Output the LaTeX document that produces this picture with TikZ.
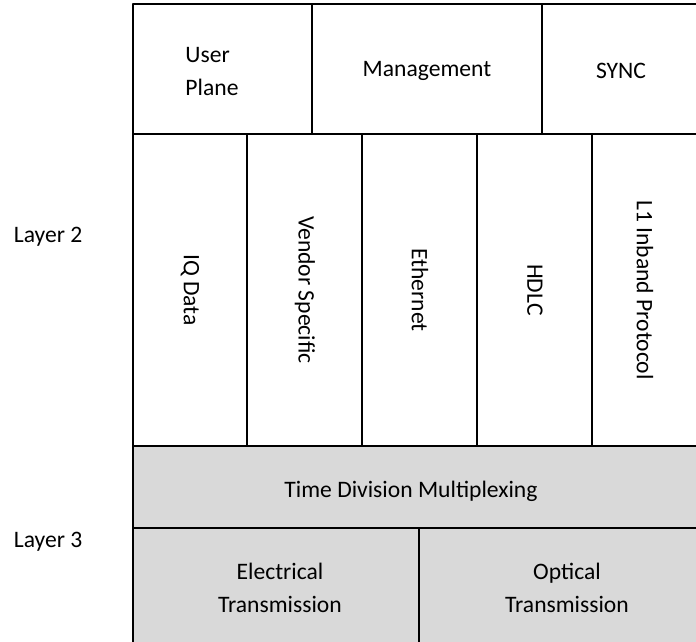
\documentclass[tikz,border=0pt]{standalone}
\usepackage{fontspec}
\setmainfont{Carlito}
\definecolor{layergray}{HTML}{D9D9D9}
\begin{document}
\begin{tikzpicture}[x=0.5pt,y=-0.5pt,line width=0.9pt,line join=bevel,
  every node/.style={font=\fontsize{11.8}{16.5}\selectfont},
  vlabel/.style={rotate=-90}]
	\useasboundingbox (0,0) rectangle (696,642);
	\clip (0,0) rectangle (696,642);
	%couches grises
	\fill[layergray] (133,446) rectangle (710,660);
	%cadres
	\draw (133,4) rectangle (710,134) ; %ligne du haut
	\draw (312,4)--(312,134) ;
	\draw (542,4)--(542,134) ;
	\draw (133,134) rectangle (710,446) ; %colonnes
	\foreach \X in {247,362,477,592}
		\draw (\X,134)--(\X,446) ;
	\draw (133,446) rectangle (710,528) ; %TDM
	\draw (133,528) rectangle (710,660) ; %transmission
	\draw (419,528)--(419,660) ;
	%labels
	\node (user) [align=left] at (212,72) {User\\Plane};
	\node (mgmt) at (427,71) {Management};
	\node (sync) at (621,71) {SYNC};
	\foreach \Nom/\X/\Texte in {iq/190/IQ Data,vendor/305/Vendor Specific,eth/420/Ethernet,hdlc/535/HDLC,inband/645/L1 Inband Protocol}
		\node[vlabel] (\Nom) at (\X,290) {\Texte};
	\node (tdm) at (411,491) {Time Division Multiplexing};
	\node (elec) [align=center] at (280,588) {Electrical\\Transmission};
	\node (opt) [align=center] at (567,588) {Optical\\Transmission};
	\node (l2) [anchor=base west,inner sep=0pt] at (13,242) {Layer 2};
	\node (l3) [anchor=base west,inner sep=0pt] at (13,547) {Layer 3};
\end{tikzpicture}
\end{document}
